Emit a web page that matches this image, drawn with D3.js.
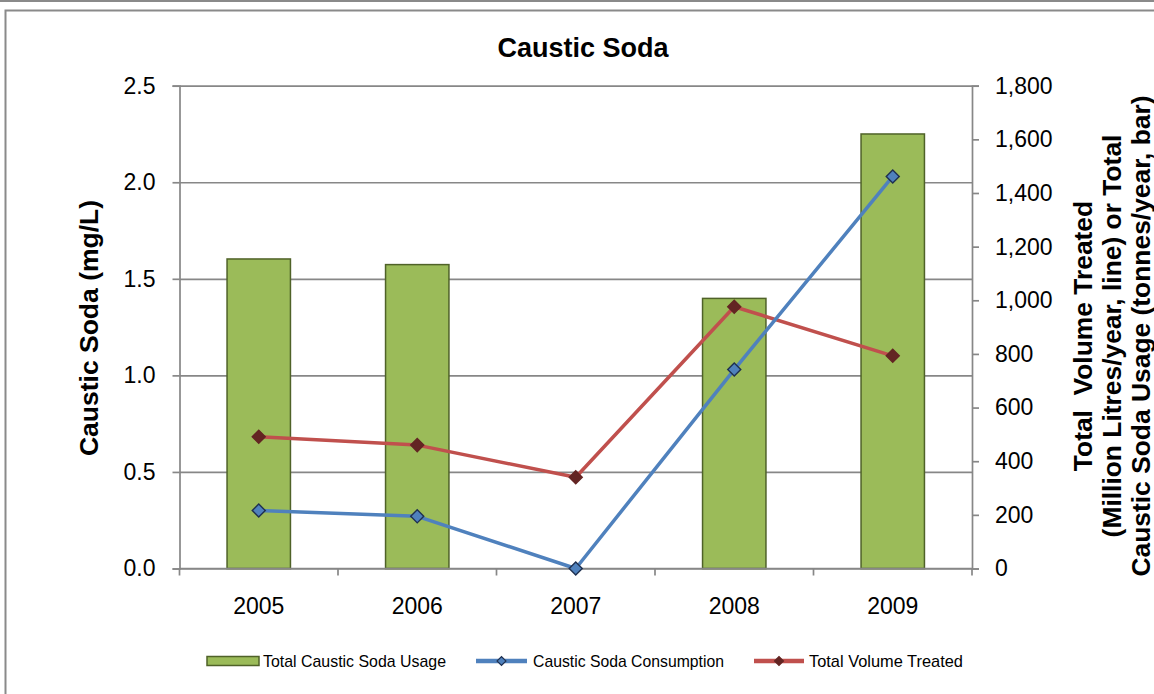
<!DOCTYPE html>
<html>
<head>
<meta charset="utf-8">
<script src="https://cdn.jsdelivr.net/npm/d3@7"></script>
<style>
  html, body { margin: 0; padding: 0; background: #fff; }
  svg { display: block; font-family: 'Liberation Sans', Arial, sans-serif; }
  .tick text { fill: #000; }
</style>
</head>
<body>
<div id="chart"></div>
<script>
// ---------- Data ----------
const years = ['2005', '2006', '2007', '2008', '2009']
// tonnes/year (bars, right axis)
const usage = [1154, 1133, 0, 1007, 1620]
// mg/L (blue line, left axis)
const consumption = [0.30, 0.27, 0, 1.03, 2.03]
// million litres/year (red line, right axis)
const volume = [491, 460, 340, 976, 793]

const leftTicks = [0, 0.5, 1.0, 1.5, 2.0, 2.5]
const rightTicks = [0, 200, 400, 600, 800, 1000, 1200, 1400, 1600, 1800]

const legendLabels = ['Total Caustic Soda Usage', 'Caustic Soda Consumption', 'Total Volume Treated']

// ---------- Layout ----------
const width = 1154
const height = 694
const plot = { left: 179.5, right: 972, top: 85.7, bottom: 568.5 }

const colors = {
  bar: '#9bbb59',
  barStroke: '#4f6228',
  blue: '#4f81bd',
  blueMarkerStroke: '#1f3050',
  red: '#c0504d',
  redMarker: '#632523',
  grid: '#878787'
}

const svg = d3.select('#chart')
  .append('svg')
  .attr('width', width)
  .attr('height', height)

// outer frame
svg.append('line')
  .attr('x1', 0).attr('x2', width).attr('y1', 1).attr('y2', 1)
  .attr('stroke', '#8a8a8a').attr('stroke-width', 2)
svg.append('path')
  .attr('d', `M5.5,${height + 5}V10.5H${width + 5}`)
  .attr('fill', 'none')
  .attr('stroke', '#8a8a8a')
  .attr('stroke-width', 2)

// ---------- Scales ----------
const x = d3.scaleBand()
  .domain(years)
  .range([plot.left, plot.right])
  .paddingInner(0.6)
  .paddingOuter(0.3)

const yLeft = d3.scaleLinear().domain([0, 2.5]).range([plot.bottom, plot.top])
const yRight = d3.scaleLinear().domain([0, 1800]).range([plot.bottom, plot.top])

const cx = d => x(d) + x.bandwidth() / 2

// ---------- Grid ----------
svg.append('g')
  .attr('transform', `translate(${plot.left},0)`)
  .call(d3.axisLeft(yLeft).tickValues(leftTicks).tickSizeInner(-(plot.right - plot.left)).tickSizeOuter(0).tickFormat(''))
  .call(ax => ax.select('.domain').remove())
  .call(ax => ax.selectAll('.tick line').attr('stroke', colors.grid).attr('stroke-width', 1.7))

// ---------- Bars ----------
svg.append('g')
  .selectAll('rect')
  .data(years.map((y, i) => ({ year: y, value: usage[i] })).filter(d => d.value > 0))
  .join('rect')
  .attr('x', d => x(d.year))
  .attr('y', d => yRight(d.value))
  .attr('width', x.bandwidth())
  .attr('height', d => yRight(0) - yRight(d.value))
  .attr('fill', colors.bar)
  .attr('stroke', colors.barStroke)
  .attr('stroke-width', 1.5)

// ---------- Axes ----------
const leftAxis = svg.append('g')
  .attr('transform', `translate(${plot.left},0)`)
  .call(d3.axisLeft(yLeft).tickValues(leftTicks).tickSize(7).tickPadding(17).tickFormat(d3.format('.1f')))
leftAxis.selectAll('.tick line').attr('stroke', colors.grid).attr('stroke-width', 1.7)
leftAxis.select('.domain').attr('stroke', colors.grid).attr('stroke-width', 1.7)
leftAxis.selectAll('text').attr('font-size', 23).attr('font-family', 'Liberation Sans, Arial, sans-serif')

const rightAxis = svg.append('g')
  .attr('transform', `translate(${plot.right},0)`)
  .call(d3.axisRight(yRight).tickValues(rightTicks).tickSize(7).tickPadding(16).tickFormat(d3.format(',')))
rightAxis.selectAll('.tick line').attr('stroke', colors.grid).attr('stroke-width', 1.7)
rightAxis.select('.domain').attr('stroke', colors.grid).attr('stroke-width', 1.7)
rightAxis.selectAll('text').attr('font-size', 23).attr('font-family', 'Liberation Sans, Arial, sans-serif')

// x axis: baseline, boundary ticks, centred labels
const step = x.step()
const boundaries = years.map(d => cx(d) - step / 2).concat([cx(years[years.length - 1]) + step / 2])
const xAxis = svg.append('g')
xAxis.append('line')
  .attr('x1', plot.left).attr('x2', plot.right)
  .attr('y1', plot.bottom).attr('y2', plot.bottom)
  .attr('stroke', colors.grid).attr('stroke-width', 1.7)
xAxis.selectAll('.xtick')
  .data(boundaries)
  .join('line')
  .attr('class', 'xtick')
  .attr('x1', d => d).attr('x2', d => d)
  .attr('y1', plot.bottom).attr('y2', plot.bottom + 7)
  .attr('stroke', colors.grid).attr('stroke-width', 1.7)
xAxis.selectAll('.xlabel')
  .data(years)
  .join('text')
  .attr('class', 'xlabel')
  .attr('x', d => cx(d))
  .attr('y', 614)
  .attr('text-anchor', 'middle')
  .attr('font-size', 23)
  .text(d => d)

// ---------- Lines ----------
const diamond = d3.symbol(d3.symbolSquare, 85)

function drawSeries (values, yScale, stroke, markerFill, markerStroke) {
  const pts = years.map((y, i) => ({ year: y, value: values[i] }))
  svg.append('path')
    .datum(pts)
    .attr('fill', 'none')
    .attr('stroke', stroke)
    .attr('stroke-width', 3.5)
    .attr('stroke-linejoin', 'round')
    .attr('d', d3.line().x(d => cx(d.year)).y(d => yScale(d.value)))
  svg.append('g')
    .selectAll('path')
    .data(pts)
    .join('path')
    .attr('d', diamond)
    .attr('transform', d => `translate(${cx(d.year)},${yScale(d.value)}) rotate(45)`)
    .attr('fill', markerFill)
    .attr('stroke', markerStroke)
    .attr('stroke-width', 1.4)
}

drawSeries(volume, yRight, colors.red, colors.redMarker, colors.redMarker)
drawSeries(consumption, yLeft, colors.blue, colors.blue, colors.blueMarkerStroke)

// ---------- Titles ----------
svg.append('text')
  .attr('x', 583)
  .attr('y', 56.5)
  .attr('text-anchor', 'middle')
  .attr('font-size', 27)
  .attr('font-weight', 'bold')
  .text('Caustic Soda')

svg.append('text')
  .attr('transform', 'translate(88.5,328) rotate(-90)')
  .attr('text-anchor', 'middle')
  .attr('dy', '0.35em')
  .attr('font-size', 26.5)
  .attr('font-weight', 'bold')
  .text('Caustic Soda (mg/L)')

// right title runs off the right edge, as in the original
const rightTitle = ['Total  Volume Treated', '(Million Litres/year, line) or Total', 'Caustic Soda Usage (tonnes/year, bar)']
svg.append('g')
  .selectAll('text')
  .data(rightTitle)
  .join('text')
  .attr('transform', (d, i) => `translate(${1083 + i * 29},336) rotate(-90)`)
  .attr('text-anchor', 'middle')
  .attr('dy', '0.35em')
  .attr('font-size', 26.4)
  .attr('font-weight', 'bold')
  .attr('xml:space', 'preserve')
  .style('white-space', 'pre')
  .text(d => d)

// ---------- Legend ----------
const legendY = 661
const legendItems = [
  { kind: 'bar', x0: 207, x1: 259, tx: 263, tw: 183 },
  { kind: 'blue', x0: 476, x1: 527, tx: 533, tw: 191 },
  { kind: 'red', x0: 754, x1: 804, tx: 809, tw: 154 }
]
const legend = svg.append('g').attr('class', 'legend')
legendItems.forEach((it, i) => {
  if (it.kind === 'bar') {
    legend.append('rect')
      .attr('x', it.x0).attr('y', legendY - 4.5)
      .attr('width', it.x1 - it.x0).attr('height', 9)
      .attr('fill', colors.bar).attr('stroke', colors.barStroke).attr('stroke-width', 1.5)
  } else {
    const stroke = it.kind === 'blue' ? colors.blue : colors.red
    const fill = it.kind === 'blue' ? colors.blue : colors.redMarker
    const mStroke = it.kind === 'blue' ? colors.blueMarkerStroke : colors.redMarker
    legend.append('line')
      .attr('x1', it.x0).attr('x2', it.x1).attr('y1', legendY).attr('y2', legendY)
      .attr('stroke', stroke).attr('stroke-width', 4.5)
    legend.append('path')
      .attr('d', d3.symbol(d3.symbolSquare, 40))
      .attr('transform', `translate(${(it.x0 + it.x1) / 2},${legendY}) rotate(45)`)
      .attr('fill', fill).attr('stroke', mStroke).attr('stroke-width', 1.2)
  }
  legend.append('text')
    .attr('x', it.tx)
    .attr('y', legendY)
    .attr('dy', '0.35em')
    .attr('font-size', 17)
    .attr('textLength', it.tw)
    .attr('lengthAdjust', 'spacingAndGlyphs')
    .text(legendLabels[i])
})
</script>
</body>
</html>
